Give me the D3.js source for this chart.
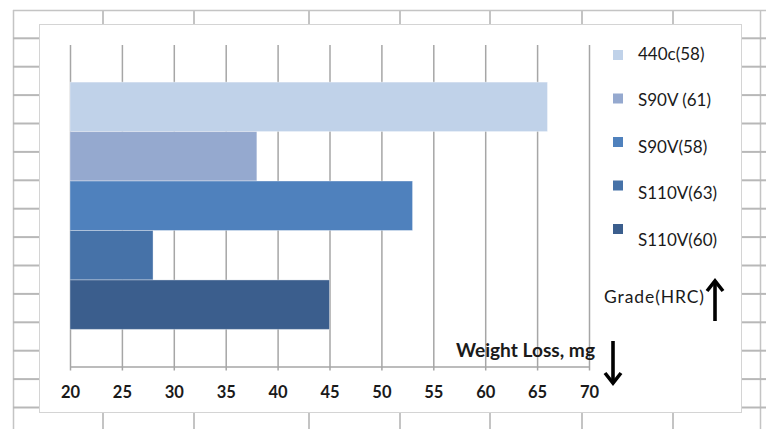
<!DOCTYPE html>
<html>
<head>
<meta charset="utf-8">
<script src="https://cdn.jsdelivr.net/npm/d3@7"></script>
<style>
  html, body { margin: 0; padding: 0; background: #fff; }
  svg { display: block; }
  text { font-family: Lato, "Open Sans", sans-serif; fill: #1a1a1a; }
</style>
</head>
<body>
<svg id="chart" width="766" height="429"></svg>
<script>
// Wear test: weight loss per steel grade (hardness in HRC)
const grades = ["440c(58)", "S90V (61)", "S90V(58)", "S110V(63)", "S110V(60)"];
const weightLoss = [66, 38, 53, 28, 45];
const barColors = ["#c0d2e9", "#95a9cf", "#4f81bd", "#4672a8", "#3b5e8d"];
const xTicks = [20, 25, 30, 35, 40, 45, 50, 55, 60, 65, 70];
const xTitle = "Weight Loss, mg";
const legendTitle = "Grade(HRC)";

const svg = d3.select("#chart");

// ---- worksheet cells behind the chart object ----
const sheet = svg.append("g").attr("class", "sheet");
const sheetLine = "#c4c4c4";
const colEdges = [103, 194, 309, 400, 490, 582, 673];
const rowPitch = 28.4, firstRow = 38.3;
sheet.append("line").attr("x1", 13).attr("x2", 766).attr("y1", 10.5).attr("y2", 10.5)
  .attr("stroke", sheetLine).attr("stroke-width", 1.5);
sheet.append("line").attr("x1", 13.5).attr("x2", 13.5).attr("y1", 10).attr("y2", 429)
  .attr("stroke", sheetLine).attr("stroke-width", 1.5);
sheet.append("line").attr("x1", 760.5).attr("x2", 760.5).attr("y1", 10).attr("y2", 429)
  .attr("stroke", sheetLine).attr("stroke-width", 1.5);
colEdges.forEach(cx => {
  sheet.append("line").attr("x1", cx).attr("x2", cx).attr("y1", 10).attr("y2", 429)
    .attr("stroke", sheetLine).attr("stroke-width", 2);
});
for (let i = 0; i < 14; i++) {
  const ry = firstRow + i * rowPitch;
  sheet.append("line").attr("x1", 13).attr("x2", 40).attr("y1", ry).attr("y2", ry)
    .attr("stroke", "#b8b8b8").attr("stroke-width", 2);
  sheet.append("line").attr("x1", 741).attr("x2", 766).attr("y1", ry).attr("y2", ry)
    .attr("stroke", "#b8b8b8").attr("stroke-width", 2);
}

// ---- chart object ----
svg.append("rect")
  .attr("x", 39.5).attr("y", 24.5).attr("width", 702).attr("height", 388)
  .attr("fill", "#fff").attr("stroke", "#d4d4d4").attr("stroke-width", 1);

const plot = { left: 70, right: 589, top: 45, bottom: 366.5 };

const x = d3.scaleLinear().domain([20, 70]).range([plot.left, plot.right]);
const y = d3.scaleBand().domain(grades).range([plot.top, plot.bottom])
  .paddingInner(0).paddingOuter(0.75);
const color = d3.scaleOrdinal().domain(grades).range(barColors);

// vertical gridlines + axis
const axis = svg.append("g")
  .attr("transform", `translate(0,${plot.bottom})`)
  .call(d3.axisBottom(x).tickValues(xTicks).tickSize(4).tickSizeOuter(0));
axis.select(".domain").attr("stroke", "#a6a6a6").attr("stroke-width", 1.5);
axis.selectAll(".tick line")
  .attr("y1", -(plot.bottom - plot.top))
  .attr("stroke", "#a6a6a6").attr("stroke-width", 1.5);
axis.selectAll(".tick text")
  .attr("y", 31).attr("dy", 0)
  .style("font-family", "Lato, sans-serif")
  .style("font-weight", "bold").style("font-size", "16.5px")
  .attr("fill", "#000");

// bars
svg.append("g").selectAll("rect")
  .data(grades.map((g, i) => ({ grade: g, value: weightLoss[i] })))
  .join("rect")
  .attr("x", x(20))
  .attr("y", d => y(d.grade))
  .attr("width", d => x(d.value) - x(20))
  .attr("height", y.bandwidth())
  .attr("fill", d => color(d.grade))
  .attr("stroke", "rgba(255,255,255,0.35)")
  .attr("stroke-width", 1);

// legend
const legend = svg.append("g");
grades.forEach((g, i) => {
  legend.append("rect")
    .attr("x", 613).attr("y", 50 + i * 43.5)
    .attr("width", 10).attr("height", 10)
    .attr("fill", color(g));
  legend.append("text")
    .attr("x", 638).attr("y", 60 + i * 46.4)
    .style("font-size", "17px")
    .text(g);
});
legend.append("text")
  .attr("x", 604).attr("y", 302.5)
  .style("font-size", "17.5px")
  .attr("textLength", 100).attr("lengthAdjust", "spacing")
  .text(legendTitle);

// axis title
svg.append("text")
  .attr("x", 456).attr("y", 357)
  .style("font-size", "19px").style("font-weight", "bold")
  .attr("textLength", 139).attr("lengthAdjust", "spacingAndGlyphs")
  .text(xTitle);

// direction arrows
function arrow(xc, yTail, yHead) {
  const dir = yHead < yTail ? 1 : -1;
  const g = svg.append("g").attr("stroke", "#000").attr("fill", "none")
    .attr("stroke-width", 3.6).attr("stroke-linecap", "butt");
  g.append("line").attr("x1", xc).attr("x2", xc).attr("y1", yTail).attr("y2", yHead + dir * 2);
  g.append("path")
    .attr("stroke-linejoin", "miter")
    .attr("d", `M${xc - 8},${yHead + dir * 12}L${xc},${yHead + dir * 2}L${xc + 8},${yHead + dir * 12}`);
}
arrow(715, 321, 279);
arrow(613, 341, 385);
</script>
</body>
</html>
